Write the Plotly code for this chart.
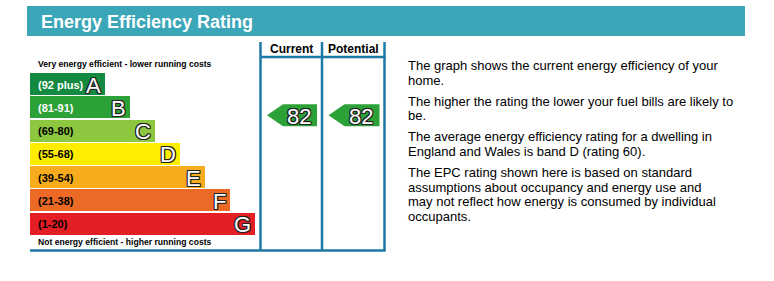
import plotly.graph_objects as go

# ---- data ----
bands = ["A", "B", "C", "D", "E", "F", "G"]
ranges = ["(92 plus)", "(81-91)", "(69-80)", "(55-68)", "(39-54)", "(21-38)", "(1-20)"]
band_low = [92, 81, 69, 55, 39, 21, 1]
band_high = [100, 91, 80, 68, 54, 38, 20]
bar_len = [75, 100, 125, 150, 175, 200, 225]
colors = ["#138a3f", "#2ca137", "#8dc63f", "#ffed00", "#f7ac1d", "#ec6a25", "#e31e24"]
label_colors = ["white", "white", "black", "black", "black", "black", "black"]
current_rating = 82
potential_rating = 82
title = "Energy Efficiency Rating"
top_note = "Very energy efficient - lower running costs"
bottom_note = "Not energy efficient - higher running costs"
info_lines = [
    ["The graph shows the current energy efficiency of your", "home."],
    ["The higher the rating the lower your fuel bills are likely to", "be."],
    ["The average energy efficiency rating for a dwelling in", "England and Wales is band D (rating 60)."],
    ["The EPC rating shown here is based on standard",
     "assumptions about occupancy and energy use and",
     "may not reflect how energy is consumed by individual",
     "occupants."],
]

# ---- layout constants ----
W, H = 774, 281
FONT = "Liberation Sans, Arial, sans-serif"
LINE = "#1c78a4"
X0 = 30
BAR_H = 22
TOP0 = 73
PITCH = 23.25
centers = [TOP0 + BAR_H / 2 + i * PITCH for i in range(len(bands))]
COLS = [(260.5, 322), (322, 384.5)]
OUTLINE = "-1px -1px 0 #222, 1px -1px 0 #222, -1px 1px 0 #222, 1px 1px 0 #222, 0 1px 0 #222, 0 -1px 0 #222, 1px 0 0 #222, -1px 0 0 #222"

fig = go.Figure()
fig.add_trace(go.Bar(
    orientation="h", base=X0, x=bar_len, y=centers, width=BAR_H,
    marker=dict(color=colors, line=dict(width=0)), hoverinfo="skip",
))

shapes = []
ann = []
# header bar
shapes.append(dict(type="rect", x0=27, x1=745, y0=6, y1=36, fillcolor="#3ba6b8", line_width=0, layer="below"))
ann.append(dict(x=39, y=21.5, text=title, showarrow=False, xanchor="left", yanchor="middle",
                font=dict(family=FONT, size=18, color="white", weight="bold")))

# frame lines
for xv in (260.5, 322, 384.5):
    shapes.append(dict(type="line", x0=xv, x1=xv, y0=42, y1=251, line=dict(color=LINE, width=2.5)))
shapes.append(dict(type="line", x0=260, x1=385.5, y0=57, y1=57, line=dict(color=LINE, width=2.5)))
shapes.append(dict(type="line", x0=30, x1=385.5, y0=250.5, y1=250.5, line=dict(color=LINE, width=2.5)))

for (a, b), lab in zip(COLS, ["Current", "Potential"]):
    ann.append(dict(x=(a + b) / 2, y=48.5, text=lab, showarrow=False, xanchor="center", yanchor="middle",
                    font=dict(family=FONT, size=12, color="black", weight="bold")))

# notes
ann.append(dict(x=35.5, y=63.5, text=top_note, showarrow=False, xanchor="left", yanchor="middle",
                font=dict(family=FONT, size=8.6, color="black", weight="bold")))
ann.append(dict(x=35.5, y=241.5, text=bottom_note, showarrow=False, xanchor="left", yanchor="middle",
                font=dict(family=FONT, size=8.6, color="black", weight="bold")))

# band labels
for i, (b, r) in enumerate(zip(bands, ranges)):
    ann.append(dict(x=36, y=centers[i] + 0.5, text=r, showarrow=False, xanchor="left", yanchor="middle",
                    font=dict(family=FONT, size=11, color=label_colors[i], weight="bold")))
    ann.append(dict(x=X0 + bar_len[i] - 2, y=centers[i] + 1, text=b, showarrow=False, xanchor="right",
                    yanchor="middle",
                    font=dict(family=FONT, size=22, color="white", shadow=OUTLINE)))


def rating_y(v):
    for i, (lo, hi) in enumerate(zip(band_low, band_high)):
        if lo <= v <= hi or (i == 0 and v > hi):
            frac = (v - lo) / (hi - lo + 1)
            bottom = centers[i] + BAR_H / 2
            return bottom - frac * BAR_H - 1
    return centers[-1]


def band_color(v):
    for i, (lo, hi) in enumerate(zip(band_low, band_high)):
        if lo <= v <= hi or (i == 0 and v > hi):
            return colors[i]
    return colors[-1]


for (a, b), v in zip(COLS, [current_rating, potential_rating]):
    yc = rating_y(v)
    tip = a + 6.5
    right = b - 5
    body = tip + 16
    hh = BAR_H / 2
    path = f"M {tip},{yc} L {body},{yc - hh} L {right},{yc - hh} L {right},{yc + hh} L {body},{yc + hh} Z"
    shapes.append(dict(type="path", path=path, fillcolor=band_color(v), line_width=0))
    ann.append(dict(x=(body + right) / 2 - 1, y=yc + 1, text=str(v), showarrow=False, xanchor="center",
                    yanchor="middle", font=dict(family=FONT, size=22, color="white", shadow=OUTLINE)))

# info text
ys = [[65, 80], [101, 115.5], [136.5, 151], [172.5, 187, 201.5, 216]]
for para, yy in zip(info_lines, ys):
    for t, yv in zip(para, yy):
        ann.append(dict(x=405.5, y=yv, text=t, showarrow=False, xanchor="left", yanchor="middle",
                        font=dict(family=FONT, size=13, color="black")))

fig.update_layout(
    width=W, height=H, margin=dict(l=0, r=0, t=0, b=0),
    paper_bgcolor="white", plot_bgcolor="white", showlegend=False,
    xaxis=dict(range=[0, W], visible=False, fixedrange=True),
    yaxis=dict(range=[H, 0], visible=False, fixedrange=True),
    shapes=shapes, annotations=ann, bargap=0,
)
fig.write_html("out.html", config={"displayModeBar": False})
